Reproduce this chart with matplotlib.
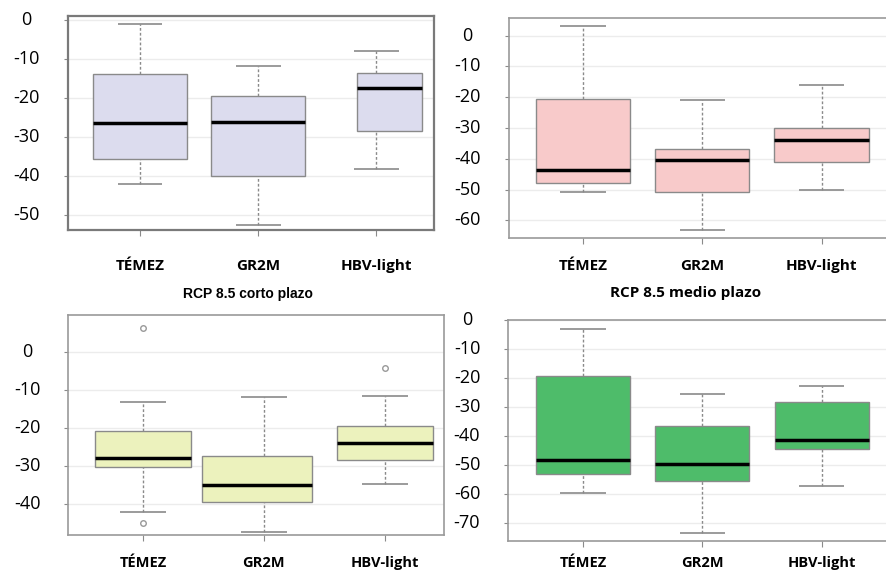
import matplotlib
matplotlib.use("Agg")
import matplotlib.pyplot as plt

# ----------------------------------------------------------------- data
models = ["TÉMEZ", "GR2M", "HBV-light"]

# top left (lavender)
p1_hi = [-1.0, -11.8, -7.9]
p1_q3 = [-13.9, -19.6, -13.5]
p1_med = [-26.5, -26.2, -17.5]
p1_q1 = [-35.7, -40.0, -28.5]
p1_lo = [-41.9, -52.4, -38.3]
p1_out = [[], [], []]
p1_ticks = [0, -10, -20, -30, -40, -50]

# top right (pink)
p2_hi = [3.0, -20.8, -16.1]
p2_q3 = [-20.5, -36.8, -30.0]
p2_med = [-43.7, -40.5, -33.8]
p2_q1 = [-48.0, -50.7, -41.1]
p2_lo = [-50.7, -63.0, -50.2]
p2_out = [[], [], []]
p2_ticks = [0, -10, -20, -30, -40, -50, -60]

# RCP 8.5 corto plazo (yellow)
p3_hi = [-13.3, -12.0, -11.6]
p3_q3 = [-20.9, -27.5, -19.6]
p3_med = [-28.1, -35.2, -24.0]
p3_q1 = [-30.4, -39.7, -28.4]
p3_lo = [-42.2, -47.6, -34.8]
p3_out = [[6.4, -45.1], [], [-4.3]]
p3_ticks = [0, -10, -20, -30, -40]

# RCP 8.5 medio plazo (green)
p4_hi = [-3.0, -25.5, -22.9]
p4_q3 = [-19.2, -36.7, -28.2]
p4_med = [-48.5, -49.8, -41.5]
p4_q1 = [-53.2, -55.5, -44.6]
p4_lo = [-59.9, -73.5, -57.3]
p4_out = [[], [], []]
p4_ticks = [0, -10, -20, -30, -40, -50, -60, -70]

title3 = "RCP 8.5 corto plazo"
title4 = "RCP 8.5 medio plazo"

# ----------------------------------------------------------------- layout
W, H = 886, 571
fig = plt.figure(figsize=(W / 100, H / 100), dpi=100)

def px_axes(left, top, right, bottom):
    return fig.add_axes([left / W, 1 - bottom / H, (right - left) / W, (bottom - top) / H])

GRAY = "#8a8a8a"
HALF = 0.395
CAP = 0.19


def panel(ax, hi, q3, med, q1, lo, out, ticks, color, ylim, xlim, ylab_x, xpad,
          spans=None, spine_col="#9a9a9a", spine_lw=1.2, right_spine=True, xfs=11):
    pos = range(1, len(models) + 1)
    for i, p in enumerate(pos):
        l, r = (-HALF, HALF) if spans is None or i not in spans else spans[i]
        ax.bar(p + (l + r) / 2, q3[i] - q1[i], width=r - l, bottom=q1[i],
               color=color, edgecolor=GRAY, linewidth=1, zorder=2)
        ax.vlines(p, q3[i], hi[i], color=GRAY, lw=1, ls=(0, (2, 1.5)), zorder=1)
        ax.vlines(p, lo[i], q1[i], color=GRAY, lw=1, ls=(0, (2, 1.5)), zorder=1)
        ax.hlines([hi[i], lo[i]], p - CAP, p + CAP, color=GRAY, lw=1.2, zorder=1)
        ax.hlines(med[i], p + l, p + r, color="black", lw=2.5, zorder=3)
        if out[i]:
            ax.plot([p] * len(out[i]), out[i], "o", ms=4, mfc="none", mec="#999999",
                    mew=1, zorder=3)
    ax.set_xlim(*xlim)
    ax.set_ylim(*ylim)
    ax.tick_params(axis="y", length=3, color=GRAY, labelleft=False)
    ax.tick_params(axis="x", length=4, color=GRAY, pad=xpad)
    ax.set_yticks(ticks)
    # y labels centred at a fixed pixel column left of the spine
    bbox = ax.get_position()
    xa = (ylab_x / W - bbox.x0) / bbox.width
    for t in ticks:
        ax.text(xa, t, str(t), transform=ax.get_yaxis_transform(), ha="center",
                va="center", family="Open Sans", fontsize=13, clip_on=False)
    ax.set_xticks(list(pos))
    ax.set_xticklabels(models, family="Open Sans", fontweight="bold", fontsize=xfs)
    ax.yaxis.grid(True, color="#ececec", lw=1)
    ax.set_axisbelow(True)
    for s in ax.spines.values():
        s.set_color(spine_col)
        s.set_linewidth(spine_lw)
    ax.spines["right"].set_visible(right_spine)


ax1 = px_axes(68, 16, 434, 230)
panel(ax1, p1_hi, p1_q3, p1_med, p1_q1, p1_lo, p1_out, p1_ticks, "#dcdcee",
      (-53.8, 1.0), (0.39, 3.49), 26, 17, spans={2: (-0.16, 0.39)},
      spine_col="#7a7a7a", spine_lw=1.6)

ax2 = px_axes(509, 18, 886, 238)
panel(ax2, p2_hi, p2_q3, p2_med, p2_q1, p2_lo, p2_out, p2_ticks, "#f8caca",
      (-65.7, 5.7), (0.38, 3.54), 467, 11.4, right_spine=False)

ax3 = px_axes(68, 315, 444, 535)
panel(ax3, p3_hi, p3_q3, p3_med, p3_q1, p3_lo, p3_out, p3_ticks, "#ecf2bd",
      (-48.3, 9.7), (0.38, 3.49), 27, 11.0, spans={1: (-0.51, 0.40)}, xfs=10.5)

ax4 = px_axes(508, 320, 886, 541)
panel(ax4, p4_hi, p4_q3, p4_med, p4_q1, p4_lo, p4_out, p4_ticks, "#4ebc6a",
      (-76.4, 0.1), (0.37, 3.54), 467, 6.5, right_spine=False, xfs=10.5)

fig.text(248 / W, 1 - 294 / H, title3, ha="center", va="center",
         family="Liberation Sans", fontweight="bold", fontsize=10)
fig.text(686 / W, 1 - 293 / H, title4, ha="center", va="center",
         family="Open Sans", fontweight="bold", fontsize=11)

fig.savefig("out.png", dpi=100)
